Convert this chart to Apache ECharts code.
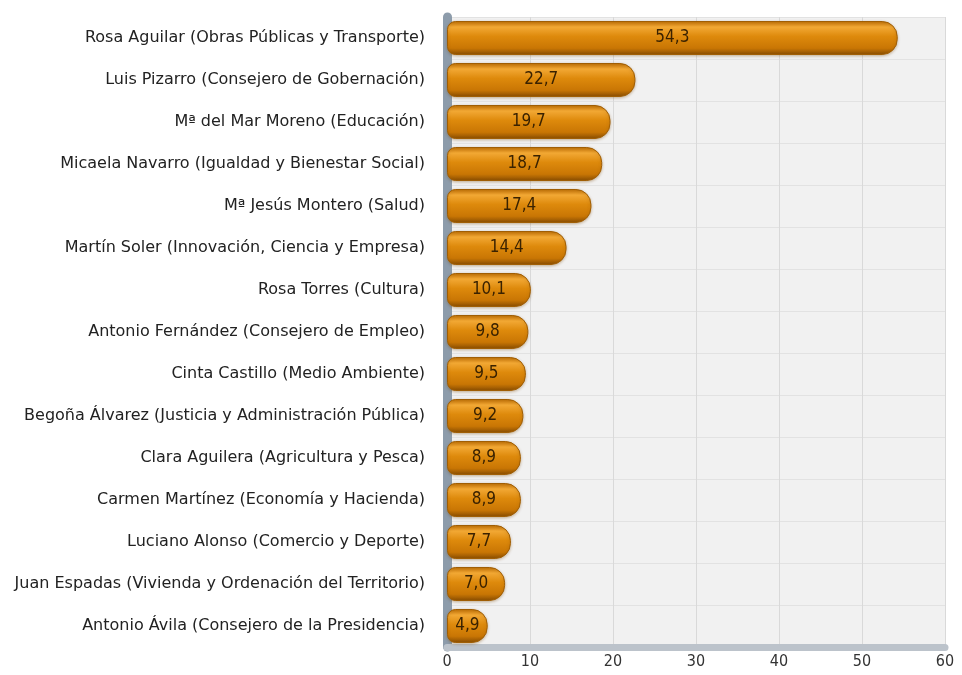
<!DOCTYPE html>
<html>
<head>
<meta charset="utf-8">
<script src="https://cdn.jsdelivr.net/npm/echarts@6/dist/echarts.min.js"></script>
<style>
  html, body { margin: 0; padding: 0; background: #fff; }
  #chart { width: 962px; height: 675px; }
</style>
</head>
<body>
<div id="chart"></div>
<script>
var consejeros = [
  "Rosa Aguilar (Obras Públicas y Transporte)",
  "Luis Pizarro (Consejero de Gobernación)",
  "Mª del Mar Moreno (Educación)",
  "Micaela Navarro (Igualdad y Bienestar Social)",
  "Mª Jesús Montero (Salud)",
  "Martín Soler (Innovación, Ciencia y Empresa)",
  "Rosa Torres (Cultura)",
  "Antonio Fernández (Consejero de Empleo)",
  "Cinta Castillo (Medio Ambiente)",
  "Begoña Álvarez (Justicia y Administración Pública)",
  "Clara Aguilera (Agricultura y Pesca)",
  "Carmen Martínez (Economía y Hacienda)",
  "Luciano Alonso (Comercio y Deporte)",
  "Juan Espadas (Vivienda y Ordenación del Territorio)",
  "Antonio Ávila (Consejero de la Presidencia)"
];
var valores = [54.3, 22.7, 19.7, 18.7, 17.4, 14.4, 10.1, 9.8, 9.5, 9.2, 8.9, 8.9, 7.7, 7.0, 4.9];

var fuente = "DejaVu Sans Condensed";
var chart = echarts.init(document.getElementById("chart"));

// tubo naranja: brillo arriba, sombra abajo
var barColor = new echarts.graphic.LinearGradient(0, 0, 0, 1, [
  { offset: 0, color: "#c07004" },
  { offset: 0.18, color: "#f2a834" },
  { offset: 0.45, color: "#de8a0c" },
  { offset: 0.8, color: "#c97604" },
  { offset: 1, color: "#864c02" }
]);

var option = {
  animation: false,
  grid: {
    left: 447,
    right: 17,
    top: 17,
    bottom: 28,
    containLabel: false,
    show: true,
    backgroundColor: "#f1f1f1",
    borderWidth: 0
  },
  xAxis: {
    type: "value",
    min: 0,
    max: 60,
    interval: 10,
    axisLine: { show: true, lineStyle: { color: "#bcc3cb", width: 7 } },
    axisTick: { show: false },
    axisLabel: {
      color: "#333",
      fontFamily: fuente,
      fontSize: 16,
      margin: 7
    },
    splitLine: { show: true, lineStyle: { color: "#d9d9d9", width: 1 } }
  },
  yAxis: {
    type: "category",
    inverse: true,
    data: consejeros,
    axisLine: { show: true, lineStyle: { color: "#8d9cab", width: 9 } },
    axisTick: { show: false },
    axisLabel: {
      color: "#222",
      fontFamily: "DejaVu Sans",
      fontSize: 16,
      margin: 22
    },
    splitLine: { show: true, lineStyle: { color: "#e2e2e2", width: 1 } }
  },
  series: [
    {
      type: "bar",
      data: valores,
      barWidth: 34,
      itemStyle: {
        color: barColor,
        borderRadius: [8, 15, 15, 8],
        borderColor: "#a05e04",
        borderWidth: 1,
        shadowColor: "rgba(120,70,0,0.35)",
        shadowBlur: 3,
        shadowOffsetY: 1
      },
      label: {
        show: true,
        position: "inside",
        color: "#3a2200",
        fontFamily: fuente,
        fontSize: 17,
        formatter: function (p) {
          return p.value.toFixed(1).replace(".", ",");
        }
      }
    }
  ]
};

chart.setOption(option);
</script>
</body>
</html>
